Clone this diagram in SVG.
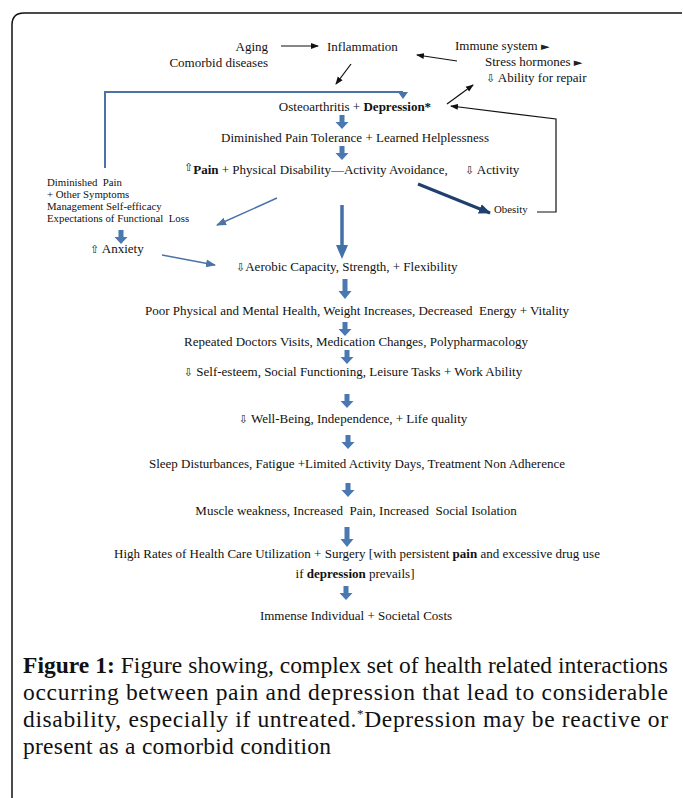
<svg xmlns="http://www.w3.org/2000/svg" width="683" height="798" viewBox="0 0 683 798">
<style>
.t{font-family:"Liberation Serif","Times New Roman",serif;font-size:13px;fill:#111}
.s{font-family:"Liberation Serif","Times New Roman",serif;font-size:10.8px;fill:#111}
.c{text-anchor:middle}
.b{font-weight:bold}
.sym{font-family:"DejaVu Sans",sans-serif;font-size:11px;fill:#222}
.cap{font-family:"Liberation Serif","Times New Roman",serif;font-size:23.5px;fill:#111}
.blk{fill:#4a78b0}
</style>
<defs>
<marker id="mk" markerWidth="8" markerHeight="8" refX="7" refY="4" orient="auto" markerUnits="userSpaceOnUse"><path d="M0,1 L8,4 L0,7 z" fill="#111"/></marker>
<marker id="mb" markerWidth="10" markerHeight="10" refX="9" refY="5" orient="auto" markerUnits="userSpaceOnUse"><path d="M0,1 L10,5 L0,9 z" fill="#4a74a8"/></marker>
<marker id="mn" markerWidth="12" markerHeight="12" refX="11" refY="6" orient="auto" markerUnits="userSpaceOnUse"><path d="M0,1 L12,6 L0,11 z" fill="#1f3f6f"/></marker>
<path id="ba" class="blk" d="M-2.5,0 h5 v7 h4 l-6.5,7 l-6.5,-7 h4 z"/>
<path id="bat" class="blk" d="M-2.5,0 h5 v12 h4 l-6.5,8 l-6.5,-8 h4 z"/>
</defs>
<rect width="683" height="798" fill="#fff"/>
<path d="M12,798 V25 Q12,13 24,13 H682" fill="none" stroke="#111" stroke-width="1.5"/>

<g id="connectors">
<line x1="281" y1="46" x2="318" y2="46" stroke="#111" stroke-width="1.2" marker-end="url(#mk)"/>
<line x1="457" y1="61" x2="417" y2="55" stroke="#111" stroke-width="1.2" marker-end="url(#mk)"/>
<line x1="351" y1="64" x2="336" y2="84" stroke="#111" stroke-width="1.2" marker-end="url(#mk)"/>
<line x1="447" y1="104" x2="473" y2="85" stroke="#111" stroke-width="1.2" marker-end="url(#mk)"/>
<polyline points="537,212 556,212 556,119 451,106" fill="none" stroke="#111" stroke-width="1.2" marker-end="url(#mk)"/>
<polyline points="105,168 105,92 403,92" fill="none" stroke="#4a74a8" stroke-width="2"/>
<path d="M398,92 L408,92 L403,99 z" fill="#4a74a8"/>
<line x1="277" y1="198" x2="217" y2="225" stroke="#4a74a8" stroke-width="1.5" marker-end="url(#mb)"/>
<line x1="162" y1="255" x2="215" y2="265" stroke="#4a74a8" stroke-width="1.5" marker-end="url(#mb)"/>
<line x1="418" y1="184" x2="490" y2="213" stroke="#1f3f6f" stroke-width="3" marker-end="url(#mn)"/>
<line x1="342" y1="205" x2="342" y2="246" stroke="#4270a8" stroke-width="3.5"/>
<path d="M336,245 L348,245 L342,259 z" fill="#4270a8"/>
<use href="#ba" x="342" y="115"/>
<use href="#ba" x="342" y="146"/>
<use href="#ba" x="121" y="230"/>
<use href="#bat" x="345" y="279"/>
<use href="#ba" x="345" y="322"/>
<use href="#ba" x="347" y="350"/>
<use href="#ba" x="347" y="394"/>
<use href="#ba" x="348" y="435"/>
<use href="#ba" x="348" y="483"/>
<use href="#bat" x="347" y="527"/>
<use href="#ba" x="346" y="586"/>
</g>

<g id="aging"><text class="t" x="268" y="51" text-anchor="end">Aging</text><text class="t" x="268" y="67" text-anchor="end">Comorbid diseases</text></g>
<g id="inflammation"><text class="t" x="327" y="51">Inflammation</text></g>
<g id="immune">
<text class="t" x="455" y="50">Immune system <tspan class="sym" font-size="9">►</tspan></text>
<text class="t" x="485" y="66">Stress hormones <tspan class="sym" font-size="9">►</tspan></text>
<text class="t" x="486" y="82"><tspan class="sym" font-size="10">⇩</tspan> Ability for repair</text>
</g>
<g id="oa"><text class="t c" x="355" y="111">Osteoarthritis + <tspan class="b">Depression*</tspan></text></g>
<g id="dpt"><text class="t c" x="355" y="142">Diminished Pain Tolerance + Learned Helplessness</text></g>
<g id="pain"><text class="t" x="184" y="174"><tspan class="sym" dy="-3">⇧</tspan><tspan class="b" dy="3">Pain</tspan> + Physical Disability—Activity Avoidance,</text>
<text class="t" x="465" y="174"><tspan class="sym" font-size="10">⇩</tspan> Activity</text></g>
<g id="dimpain">
<text class="s" x="47" y="186" xml:space="preserve">Diminished  Pain</text>
<text class="s" x="47" y="198">+ Other Symptoms</text>
<text class="s" x="47" y="210">Management Self-efficacy</text>
<text class="s" x="47" y="222" xml:space="preserve">Expectations of Functional  Loss</text>
</g>
<g id="obesity"><text class="s" x="494" y="213">Obesity</text></g>
<g id="anxiety"><text class="t" x="90" y="253"><tspan class="sym">⇧</tspan> Anxiety</text></g>
<g id="aerobic"><text class="t" x="236" y="271"><tspan class="sym" font-size="12">⇩</tspan>Aerobic Capacity, Strength, + Flexibility</text></g>
<g id="poor"><text class="t c" x="357" y="315" xml:space="preserve">Poor Physical and Mental Health, Weight Increases, Decreased  Energy + Vitality</text></g>
<g id="repeated"><text class="t c" x="356" y="346">Repeated Doctors Visits, Medication Changes, Polypharmacology</text></g>
<g id="selfesteem"><text class="t c" x="353" y="376"><tspan class="sym" font-size="12">⇩</tspan> Self-esteem, Social Functioning, Leisure Tasks + Work Ability</text></g>
<g id="wellbeing"><text class="t c" x="353" y="423"><tspan class="sym" font-size="12">⇩</tspan> Well-Being, Independence, + Life quality</text></g>
<g id="sleep"><text class="t c" x="357" y="468">Sleep Disturbances, Fatigue +Limited Activity Days, Treatment Non Adherence</text></g>
<g id="muscle"><text class="t c" x="356" y="515" xml:space="preserve">Muscle weakness, Increased  Pain, Increased  Social Isolation</text></g>
<g id="highrates">
<text class="t c" x="357" y="558">High Rates of Health Care Utilization + Surgery [with persistent <tspan class="b">pain</tspan> and excessive drug use</text>
<text class="t c" x="355" y="578">if <tspan class="b">depression</tspan> prevails]</text>
</g>
<g id="costs"><text class="t c" x="356" y="620">Immense Individual + Societal Costs</text></g>

<g id="caption">
<text class="cap" x="23" y="673" textLength="645" lengthAdjust="spacing"><tspan class="b">Figure 1:</tspan> Figure showing, complex set of health related interactions</text>
<text class="cap" x="23" y="700" textLength="645" lengthAdjust="spacing">occurring between pain and depression that lead to considerable</text>
<text class="cap" x="23" y="727" textLength="645" lengthAdjust="spacing">disability, especially if untreated.<tspan font-size="13" dy="-9">*</tspan><tspan dy="9">Depression may be reactive or</tspan></text>
<text class="cap" x="23" y="754" textLength="308" lengthAdjust="spacing">present as a comorbid condition</text>
</g>
</svg>
